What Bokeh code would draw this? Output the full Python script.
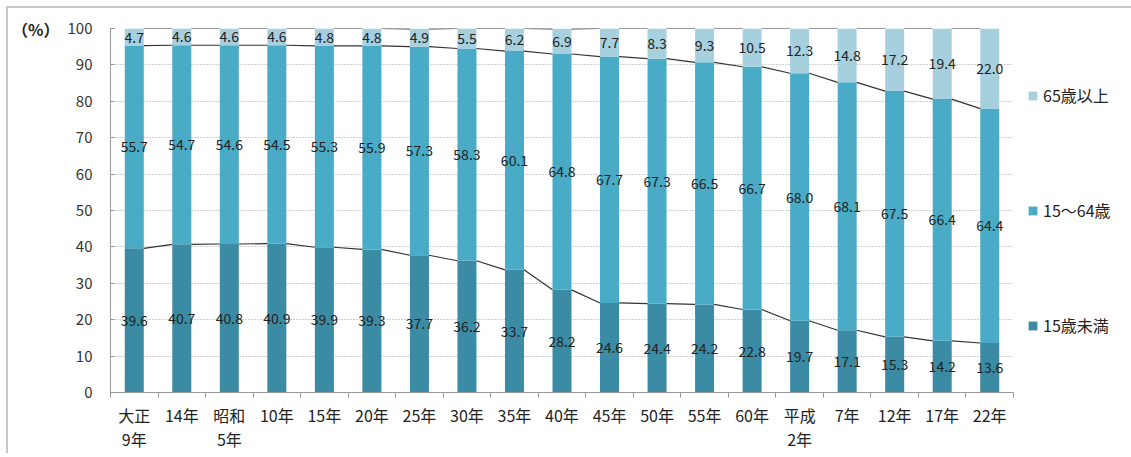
from bokeh.plotting import figure
from bokeh.models import Range1d, FixedTicker, Legend, LegendItem, LinearAxis, ColumnDataSource
from bokeh.embed import file_html
from bokeh.resources import INLINE
from bokeh.core.properties import value

categories = ["大正\n9年", "14年", "昭和\n5年", "10年", "15年", "20年", "25年", "30年", "35年",
              "40年", "45年", "50年", "55年", "60年", "平成\n2年", "7年", "12年", "17年", "22年"]
under15 = [39.6, 40.7, 40.8, 40.9, 39.9, 39.3, 37.7, 36.2, 33.7, 28.2,
           24.6, 24.4, 24.2, 22.8, 19.7, 17.1, 15.3, 14.2, 13.6]
working = [55.7, 54.7, 54.6, 54.5, 55.3, 55.9, 57.3, 58.3, 60.1, 64.8,
           67.7, 67.3, 66.5, 66.7, 68.0, 68.1, 67.5, 66.4, 64.4]
elderly = [4.7, 4.6, 4.6, 4.6, 4.8, 4.8, 4.9, 5.5, 6.2, 6.9,
           7.7, 8.3, 9.3, 10.5, 12.3, 14.8, 17.2, 19.4, 22.0]
series_names = ["15歳未満", "15～64歳", "65歳以上"]
y_ticks = [0, 10, 20, 30, 40, 50, 60, 70, 80, 90, 100]
unit_label = "（%）"

colors = ["#3c8ba5", "#4aabc6", "#a7d0df"]
FONT = "Noto Sans CJK JP"
BAR_W = 0.4

n = len(categories)
xs = list(range(n))
lvl1 = under15
lvl2 = [a + b for a, b in zip(under15, working)]
lvl3 = [a + b + c for a, b, c in zip(under15, working, elderly)]

p = figure(frame_width=903, frame_height=364, output_backend="svg", toolbar_location=None,
           x_range=Range1d(-0.5, n - 0.5), y_range=Range1d(0, 100),
           min_border_left=102, min_border_right=100, min_border_top=20, min_border_bottom=60)
p.outline_line_color = None
p.margin = (6, 0, 0, 6)
p.styles = {"border-top": "2px solid #c8c8c8", "border-left": "2px solid #c8c8c8"}

src = ColumnDataSource(dict(x=xs, b0=[0] * n, t1=lvl1, t2=lvl2, t3=lvl3,
                            u=[f"{v:.1f}" for v in under15],
                            w=[f"{v:.1f}" for v in working],
                            e=[f"{v:.1f}" for v in elderly],
                            y1=[v / 2 for v in lvl1],
                            y2=[(a + b) / 2 for a, b in zip(lvl1, lvl2)],
                            y3=[(a + b) / 2 for a, b in zip(lvl2, lvl3)]))

r1 = p.vbar(x="x", bottom="b0", top="t1", width=BAR_W, fill_color=colors[0], line_color=None, source=src)
r2 = p.vbar(x="x", bottom="t1", top="t2", width=BAR_W, fill_color=colors[1], line_color=None, source=src)
r3 = p.vbar(x="x", bottom="t2", top="t3", width=BAR_W, fill_color=colors[2], line_color=None, source=src)

# series connector lines
for lvl in (lvl1, lvl2, lvl3):
    p.segment(x0=[i + BAR_W / 2 for i in xs[:-1]], y0=lvl[:-1],
              x1=[i + 1 - BAR_W / 2 for i in xs[:-1]], y1=lvl[1:],
              line_color="#333333", line_width=1.2)

for ycol, tcol in (("y1", "u"), ("y2", "w"), ("y3", "e")):
    p.text(x="x", y=ycol, text=tcol, source=src, text_align="center", text_baseline="middle",
           text_font=value(FONT), text_font_size="14px", text_color="#222222")

# axes
p.yaxis.ticker = FixedTicker(ticks=y_ticks)
p.yaxis.major_label_text_font = FONT
p.yaxis.major_label_text_font_size = "15px"
p.yaxis.major_label_text_color = "#333333"
p.yaxis.axis_line_color = "#999999"
p.yaxis.major_tick_line_color = "#999999"
p.yaxis.major_tick_out = 0
p.yaxis.major_tick_in = 4
p.yaxis.minor_tick_line_color = None
p.yaxis.major_label_standoff = 18

unit_axis = LinearAxis(ticker=FixedTicker(ticks=[y_ticks[-1]]),
                       major_label_overrides={y_ticks[-1]: unit_label})
unit_axis.axis_line_color = None
unit_axis.major_tick_line_color = None
unit_axis.minor_tick_line_color = None
unit_axis.major_tick_in = 0
unit_axis.major_tick_out = 0
unit_axis.major_label_text_font = FONT
unit_axis.major_label_text_font_size = "16px"
unit_axis.major_label_text_font_style = "bold"
unit_axis.major_label_text_color = "#222222"
unit_axis.major_label_standoff = 5
p.add_layout(unit_axis, "left")

p.xaxis.ticker = FixedTicker(ticks=xs, minor_ticks=[i - 0.5 for i in range(n + 1)])
p.xaxis.major_label_overrides = {i: c for i, c in enumerate(categories)}
p.xaxis.major_label_text_font = FONT
p.xaxis.major_label_text_font_size = "16px"
p.xaxis.major_label_text_line_height = 1.0
p.xaxis.major_label_text_color = "#222222"
p.xaxis.axis_line_color = "#999999"
p.xaxis.major_tick_line_color = None
p.xaxis.minor_tick_line_color = "#999999"
p.xaxis.minor_tick_out = 5
p.xaxis.minor_tick_in = 0
p.xaxis.major_label_standoff = 4

p.xgrid.grid_line_color = None
p.ygrid.ticker = FixedTicker(ticks=y_ticks)
p.ygrid.grid_line_color = "#a0a0a0"
p.ygrid.grid_line_dash = "1 2"
p.ygrid.grid_line_width = 1

legend = Legend(items=[LegendItem(label=series_names[2], renderers=[r3]),
                       LegendItem(label=series_names[1], renderers=[r2]),
                       LegendItem(label=series_names[0], renderers=[r1])],
                location="center_left", spacing=91, glyph_width=11, glyph_height=11,
                label_height=20, label_text_font=FONT, label_text_font_size="16px",
                label_text_color="#222222", border_line_color=None, background_fill_alpha=0,
                padding=8, margin=14, label_standoff=5)
p.add_layout(legend, "right")

open("out.html", "w").write(file_html(p, INLINE))
